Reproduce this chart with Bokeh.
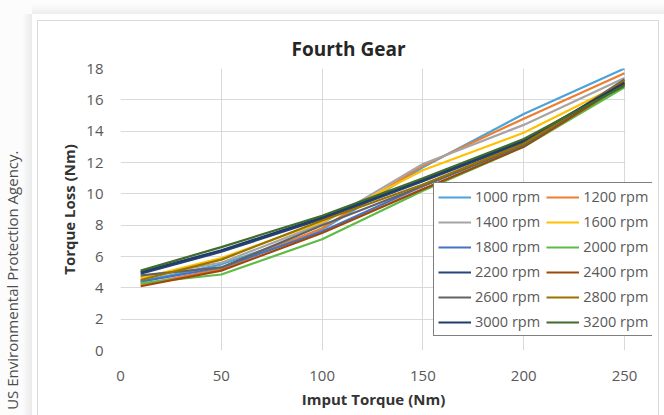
import math
from bokeh.plotting import figure
from bokeh.models import Range1d, FixedTicker, Legend, LegendItem, Label, BoxAnnotation
from bokeh.embed import file_html
from bokeh.resources import INLINE

# ---------------- data ----------------
input_torque = [10, 50, 100, 150, 200, 250]

rpm_labels = ["1000 rpm", "1200 rpm", "1400 rpm", "1600 rpm", "1800 rpm", "2000 rpm",
              "2200 rpm", "2400 rpm", "2600 rpm", "2800 rpm", "3000 rpm", "3200 rpm"]

loss_1000 = [4.4, 5.5, 7.7, 11.7, 15.1, 18.0]
loss_1200 = [4.2, 5.2, 7.8, 11.8, 14.8, 17.7]
loss_1400 = [4.7, 5.6, 8.1, 11.9, 14.4, 17.4]
loss_1600 = [4.6, 5.9, 8.2, 11.5, 13.9, 17.1]
loss_1800 = [4.4, 5.3, 7.6, 10.5, 13.2, 17.0]
loss_2000 = [4.3, 4.85, 7.1, 10.2, 13.0, 16.8]
loss_2200 = [4.9, 6.3, 8.4, 10.8, 13.3, 17.0]
loss_2400 = [4.1, 5.1, 7.5, 10.3, 13.0, 17.0]
loss_2600 = [4.8, 5.3, 8.0, 10.5, 13.1, 17.3]
loss_2800 = [4.5, 5.8, 8.3, 10.6, 13.2, 17.2]
loss_3000 = [5.0, 6.4, 8.5, 10.9, 13.4, 17.1]
loss_3200 = [5.1, 6.6, 8.6, 11.0, 13.5, 16.9]

x_ticks = [0, 50, 100, 150, 200, 250]
y_ticks = [0, 2, 4, 6, 8, 10, 12, 14, 16, 18]

series = [loss_1000, loss_1200, loss_1400, loss_1600, loss_1800, loss_2000,
          loss_2200, loss_2400, loss_2600, loss_2800, loss_3000, loss_3200]

colors = ["#4BA3DB", "#ED7D31", "#A5A5A5", "#FFC000", "#4472C4", "#5DBB46",
          "#264478", "#9E480E", "#636363", "#997300", "#1F3A6B", "#3F6B2B"]

FONT = "Open Sans"
GRID = "#d9d9d9"
TICK = "#595959"

# plot area: the data area is 504 px wide; the frame is extended to the right
# so the legend (which overhangs the data area) is not clipped.
PLOT_W = 504
FRAME_W = 532
x_lo, x_hi = x_ticks[0], x_ticks[-1]
x_end = x_lo + (x_hi - x_lo) * FRAME_W / PLOT_W

card_bg = ", ".join([
    "linear-gradient(#d9d9d9,#d9d9d9) 37px 20px / 1px 420px no-repeat",
    "linear-gradient(#d9d9d9,#d9d9d9) 37px 20px / 622px 1px no-repeat",
    "linear-gradient(#d9d9d9,#d9d9d9) 658px 20px / 1px 420px no-repeat",
    "linear-gradient(#ffffff,#ffffff) 32px 14px / 640px 420px no-repeat",
    "linear-gradient(to right, rgba(0,0,0,0), rgba(0,0,0,0.07)) 22px 14px / 10px 420px no-repeat",
    "linear-gradient(to bottom, rgba(0,0,0,0), rgba(0,0,0,0.06)) 32px 4px / 640px 10px no-repeat",
    "#fcfcfc",
])

p = figure(width=664, height=415, output_backend="svg", toolbar_location=None,
           x_range=Range1d(x_lo, x_end), y_range=Range1d(0, 18),
           min_border_left=120, min_border_right=664 - 120 - FRAME_W,
           min_border_top=68, min_border_bottom=65,
           background_fill_color="white", border_fill_color=None)
p.styles = {"background": card_bg}

p.outline_line_color = None

# title
p.title.text = "Fourth Gear"
p.title.align = "left"
p.title.offset = 171
p.title.text_font = FONT
p.title.text_font_size = "19px"
p.title.text_font_style = "bold"
p.title.text_color = "#262626"
p.title.standoff = 14

# axes
for ax in (p.xaxis[0], p.yaxis[0]):
    ax.axis_line_color = None
    ax.major_tick_line_color = None
    ax.minor_tick_line_color = None
    ax.major_label_text_font = FONT
    ax.major_label_text_font_size = "15px"
    ax.major_label_text_color = TICK
    ax.axis_label_text_font = FONT
    ax.axis_label_text_font_size = "15px"
    ax.axis_label_text_font_style = "bold"
    ax.axis_label_text_color = "#333333"

p.xaxis[0].ticker = FixedTicker(ticks=x_ticks)
p.yaxis[0].ticker = FixedTicker(ticks=y_ticks)
p.yaxis[0].axis_label = "Torque Loss (Nm)"
p.xaxis[0].major_label_standoff = 14
p.yaxis[0].major_label_standoff = 11
p.yaxis[0].axis_label_standoff = 4

p.xgrid.ticker = FixedTicker(ticks=x_ticks)
p.ygrid.ticker = FixedTicker(ticks=y_ticks)
p.xgrid.grid_line_color = GRID
p.ygrid.grid_line_color = GRID

items = []
for name, vals, col in zip(rpm_labels, series, colors):
    r = p.line(input_torque, vals, line_color=col, line_width=2.2)
    items.append(LegendItem(label=name, renderers=[r]))

# blank out the frame extension beyond the last x tick
p.add_layout(BoxAnnotation(left=x_hi + 0.5, right=x_end, top=y_ticks[-1], bottom=y_ticks[0],
                           fill_color="white", fill_alpha=1.0, line_color=None))

legend = Legend(items=items, location=(313, 14), orientation="horizontal", ncols=2,
                border_line_color="black", border_line_width=1.5,
                background_fill_color="white", background_fill_alpha=1.0,
                padding=4, spacing=6, margin=0,
                glyph_width=33, glyph_height=16, label_standoff=4, label_height=16,
                label_text_font=FONT, label_text_font_size="14.5px", label_text_color=TICK)
p.add_layout(legend, "center")

# x axis title (centred on the data area)
p.add_layout(Label(x=373, y=398, x_units="canvas", y_units="canvas",
                   text="Imput Torque (Nm)", text_align="center", text_baseline="middle",
                   text_font=FONT, text_font_size="15px", text_font_style="bold",
                   text_color="#333333"), "below")

# side credit
p.add_layout(Label(x=11, y=150, x_units="canvas", y_units="canvas",
                   text="US Environmental Protection Agency.", angle=math.pi / 2,
                   text_align="right", text_baseline="alphabetic",
                   text_font=FONT, text_font_size="15px", text_color="#4d4d4d"), "left")

open("out.html", "w").write(file_html(p, INLINE))
